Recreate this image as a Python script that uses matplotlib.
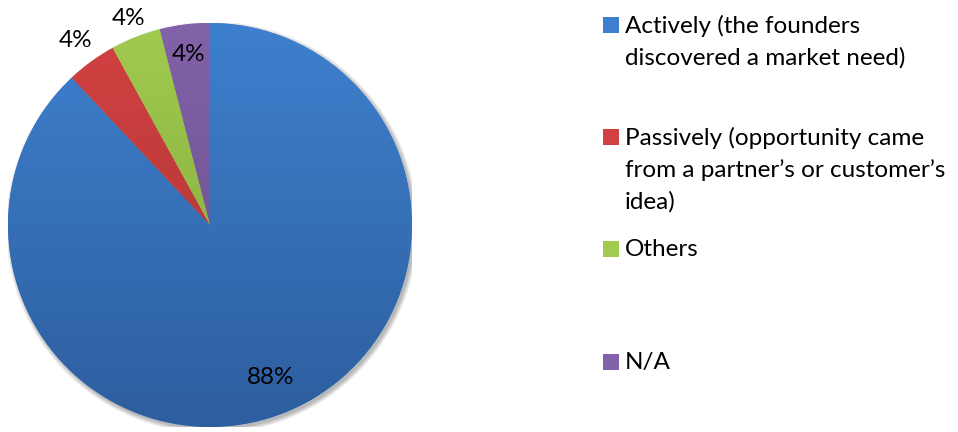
import matplotlib
matplotlib.use("Agg")
import matplotlib.pyplot as plt
import matplotlib.patches as mpatches
import numpy as np
from matplotlib.colors import LinearSegmentedColormap

# survey answers: how the business opportunity was found
categories = ["Actively (the founders\ndiscovered a market need)",
              "Passively (opportunity came\nfrom a partner\u2019s or customer\u2019s\nidea)",
              "Others",
              "N/A"]
shares = [88, 4, 4, 4]
pct_labels = ["88%", "4%", "4%", "4%"]

# gradient colours per slice, top -> bottom
top_colors = ["#3E80CE", "#D24141", "#A0CB4F", "#8262A8"]
bottom_colors = ["#2D5E9E", "#A83333", "#7FA33B", "#654A88"]

# label distance from centre (fraction of radius)
label_r = [0.81, 1.13, 1.10, 0.85]
legend_y = [25, 137, 249, 362]

plt.rcParams['font.family'] = ['Lato', 'DejaVu Sans']

W, H = 958, 432
fig = plt.figure(figsize=(W / 100, H / 100), dpi=100)
cx, cy, R = 210, 225, 202
ax = fig.add_axes([(cx - R) / W, (H - cy - R) / H, 2 * R / W, 2 * R / H])

# soft drop shadow under the pie
for k in range(6):
    sh = mpatches.Circle((0.010, -0.012), 1.0 + k * 0.004, color="black",
                         alpha=0.05, lw=0, zorder=0)
    ax.add_patch(sh)
ax.add_patch(mpatches.Circle((0, 0), 1.0, color="white", lw=0, zorder=0.5))

wedges, _ = ax.pie(shares, startangle=90, counterclock=False, radius=1.0,
                   colors=top_colors, wedgeprops=dict(linewidth=0))

grad = np.linspace(1, 0, 256).reshape(-1, 1)
for w, c0, c1 in zip(wedges, top_colors, bottom_colors):
    cmap = LinearSegmentedColormap.from_list("g", [c1, c0])
    im = ax.imshow(grad, cmap=cmap, extent=[-1, 1, -1, 1], aspect="auto",
                   zorder=2, interpolation="bilinear")
    im.set_clip_path(w)

ax.set_xlim(-1, 1)
ax.set_ylim(-1, 1)
ax.set_aspect("equal")
ax.axis("off")

# percentage labels
for w, lab, r in zip(wedges, pct_labels, label_r):
    ang = np.deg2rad((w.theta1 + w.theta2) / 2)
    ax.text(r * np.cos(ang), r * np.sin(ang), lab, ha="center", va="center",
            fontsize=17.5, color="black", zorder=5, clip_on=False)

# legend at right
for y, lab, c0, c1 in zip(legend_y, categories, top_colors, bottom_colors):
    sq = mpatches.Rectangle((603 / W, 1 - (y + 8) / H), 16 / W, 16 / H,
                            transform=fig.transFigure, color=c0, lw=0)
    fig.patches.append(sq)
    fig.text(625 / W, 1 - (y - 10) / H, lab, ha="left", va="top",
             fontsize=17.5, color="black", linespacing=1.57)

fig.savefig("out.png", dpi=100, facecolor="white")
